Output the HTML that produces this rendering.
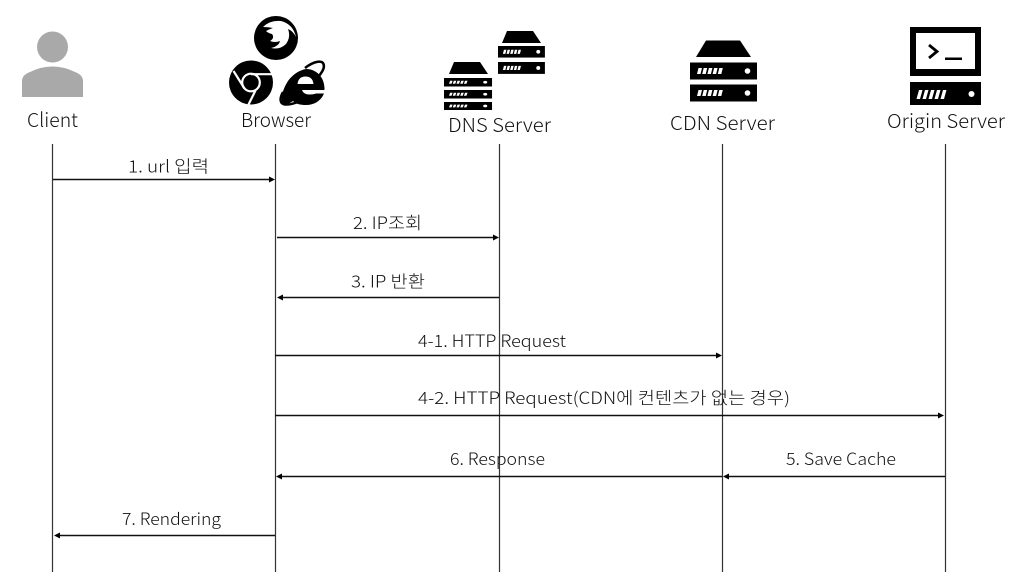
<!DOCTYPE html>
<html>
<head>
<meta charset="utf-8">
<style>
html,body{margin:0;padding:0;background:#fff;width:1033px;height:577px;overflow:hidden}
svg{display:block}
text{font-family:"Noto Sans CJK KR","Liberation Sans",sans-serif;fill:#111;font-weight:300}
.h{font-size:19.500px}
.m{font-size:16.800px}
</style>
</head>
<body>
<svg width="1033" height="577" viewBox="0 0 1033 577" xmlns="http://www.w3.org/2000/svg">
<defs>
<g id="row"><rect x="0" y="0" width="67" height="17" fill="#000"/><g fill="#fff"><path d="M8.500 5.500h3.500l-1.500 6H7zM13.700 5.500h3.500l-1.500 6h-3.500zM18.900 5.500h3.500l-1.500 6h-3.500zM24.100 5.500h3.500l-1.500 6h-3.500zM29.300 5.500h3.500l-1.500 6h-3.500z"/><circle cx="57.500" cy="8.500" r="2.800"/></g></g>
</defs>

<!-- Client -->
<circle cx="52.500" cy="47" r="15.500" fill="#a9a9a9"/>
<path d="M22 97V81Q22 75 30 72Q41 66.500 52.500 66.500Q64 66.500 75 72Q83 75 83 81V97Z" fill="#a9a9a9"/>

<!-- Browser: Firefox -->
<circle cx="276" cy="38" r="22" fill="#000"/>
<path d="M263 27Q270 20 281 21Q293 24 296 37Q293 31 288 29Q291 37 286 44Q280 50 271 48Q279 46 280 41Q275 43 270 41Q275 38 272 34Q268 33 266 31Q270 29 273 28Q268 27 263 27Z" fill="#fff"/>

<!-- Browser: Chrome -->
<circle cx="251" cy="82.500" r="22" fill="#000"/>
<circle cx="251" cy="82.500" r="8.800" fill="#000" stroke="#fff" stroke-width="2.200"/>
<path d="M251 74.200H272.500M244.500 88.500L233.500 71M255.500 90.500L248.500 104.500" stroke="#fff" stroke-width="2.200" fill="none"/>

<!-- Browser: IE -->
<path d="M306 69C317 69 325 78 324.500 90H302C303 93 306 94.500 309 94.500C312 94.500 315 94 316 93.500H324C321 101 314 105 306 105C300 105 296 104 293 101C289 104 285 105 283 104C280 101 282 90 288 81C293 74 300 70 306 69Z" fill="#000"/>
<path d="M297.500 84C298 79 301 76.500 305.500 76.500C310 76.500 313 79 313.500 84Z" fill="#fff"/>
<path d="M305 68C314 61 322 60 323.500 64C325 68 322 72 319 76" fill="none" stroke="#000" stroke-width="2.600"/>
<path d="M283 92C279 99 280 104 285 104.500C290 105 295 103 298 102" fill="none" stroke="#000" stroke-width="2.400"/>

<!-- DNS servers -->
<path d="M507 31H533L541 43H502Z" fill="#000"/>
<g transform="translate(498,46) scale(.7,.68)"><use href="#row"/></g>
<g transform="translate(498,62) scale(.7,.7)"><use href="#row"/></g>
<path d="M454 62H480L488 74H449Z" fill="#000"/>
<g transform="translate(444,78) scale(.717,.5)"><use href="#row"/></g>
<g transform="translate(444,90) scale(.717,.5)"><use href="#row"/></g>
<g transform="translate(444,102) scale(.717,.47)"><use href="#row"/></g>

<!-- CDN server -->
<path d="M706 40.500H740L751 57H696Z" fill="#000"/>
<use href="#row" x="690" y="62.500"/>
<use href="#row" x="690" y="84.500"/>

<!-- Origin server -->
<rect x="910" y="27" width="71" height="49" fill="#000"/>
<rect x="916" y="33" width="59" height="36" fill="#fff"/>
<path d="M929 45L937 51.500L929 58" fill="none" stroke="#000" stroke-width="2.800"/>
<rect x="945" y="57.500" width="17" height="2.500" fill="#000"/>
<rect x="910" y="82" width="71" height="23" fill="#000"/>
<g fill="#fff"><path d="M919 90h3.500l-2.500 9h-3.500zM925 90h3.500l-2.500 9h-3.500zM931 90h3.500l-2.500 9h-3.500zM937 90h3.500l-2.500 9h-3.500zM943 90h3.500l-2.500 9h-3.500z"/><circle cx="971.500" cy="94" r="3"/></g>

<!-- Headers -->
<text class="h" x="27" y="127" textLength="51" lengthAdjust="spacingAndGlyphs">Client</text>
<text class="h" x="241" y="127" textLength="70" lengthAdjust="spacingAndGlyphs">Browser</text>
<text class="h" x="448" y="132" textLength="103" lengthAdjust="spacingAndGlyphs">DNS Server</text>
<text class="h" x="670" y="130" textLength="105" lengthAdjust="spacingAndGlyphs">CDN Server</text>
<text class="h" x="887" y="128" textLength="118" lengthAdjust="spacingAndGlyphs">Origin Server</text>

<!-- Lifelines -->
<g stroke="#333" stroke-width="1.200">
<line x1="52.500" y1="144" x2="52.500" y2="572"/>
<line x1="275.500" y1="144" x2="275.500" y2="572"/>
<line x1="499.500" y1="144" x2="499.500" y2="572"/>
<line x1="722.500" y1="144" x2="722.500" y2="572"/>
<line x1="945.500" y1="144" x2="945.500" y2="572"/>
</g>

<!-- Messages -->
<g stroke="#111" stroke-width="1.400">
<line x1="53" y1="179.500" x2="270" y2="179.500"/>
<line x1="277" y1="237.500" x2="494" y2="237.500"/>
<line x1="499" y1="297.500" x2="283" y2="297.500"/>
<line x1="275" y1="355.500" x2="717" y2="355.500"/>
<line x1="275" y1="415.500" x2="940" y2="415.500"/>
<line x1="722" y1="476.500" x2="282" y2="476.500"/>
<line x1="945" y1="476.500" x2="728" y2="476.500"/>
<line x1="275" y1="535.500" x2="60" y2="535.500"/>
</g>
<g fill="#000">
<path d="M275 179.500L269 176.500V182.500Z"/>
<path d="M499 237.500L493 234.500V240.500Z"/>
<path d="M277 297.500L283 294.500V300.500Z"/>
<path d="M722 355.500L716 352.500V358.500Z"/>
<path d="M944 415.500L938 412.500V418.500Z"/>
<path d="M276 476.500L282 473.500V479.500Z"/>
<path d="M723 476.500L729 473.500V479.500Z"/>
<path d="M54 535.500L60 532.500V538.500Z"/>
</g>

<!-- Labels -->
<text class="m" x="128" y="172.500" textLength="81" lengthAdjust="spacingAndGlyphs">1. url 입력</text>
<text class="m" x="353" y="229" textLength="69" lengthAdjust="spacingAndGlyphs">2. IP조회</text>
<text class="m" x="351" y="287.500" textLength="74" lengthAdjust="spacingAndGlyphs">3. IP 반환</text>
<text class="m" x="418" y="347" textLength="148" lengthAdjust="spacingAndGlyphs">4-1. HTTP Request</text>
<text class="m" x="418" y="404" textLength="372" lengthAdjust="spacingAndGlyphs">4-2. HTTP Request(CDN에 컨텐츠가 없는 경우)</text>
<text class="m" x="450" y="465" textLength="95" lengthAdjust="spacingAndGlyphs">6. Response</text>
<text class="m" x="786" y="465" textLength="110" lengthAdjust="spacingAndGlyphs">5. Save Cache</text>
<text class="m" x="122" y="525" textLength="99" lengthAdjust="spacingAndGlyphs">7. Rendering</text>
</svg>
</body>
</html>
